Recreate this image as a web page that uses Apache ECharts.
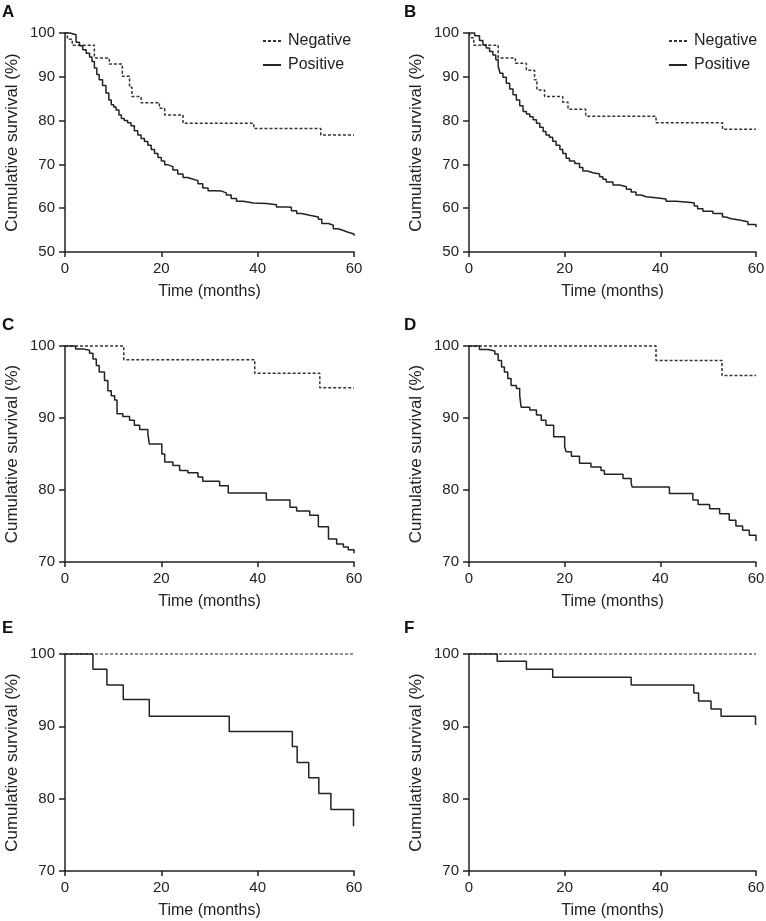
<!DOCTYPE html>
<html>
<head>
<meta charset="utf-8">
<title>Cumulative survival</title>
<script src="https://cdn.jsdelivr.net/npm/echarts@6/dist/echarts.min.js"></script>
<style>
html, body { margin: 0; padding: 0; background: #fff; }
#chart { width: 766px; height: 921px; }
</style>
</head>
<body>
<div id="chart"></div>
<script>
// A
var aNegT = [0, 0.5, 1.5, 6.1, 9.2, 11.9, 13.4, 13.9, 15.8, 19.6, 20.7, 24.5, 39.2, 53.1, 60];
var aNegS = [100, 98.6, 97.2, 94.3, 92.9, 90.1, 87.6, 85.5, 84.1, 82.8, 81.3, 79.4, 78.2, 76.7, 76.7];
var aPosT = [0, 1.0, 2.3, 3.0, 3.7, 4.4, 5.1, 5.6, 6.1, 6.6, 7.1, 7.8, 8.5, 9.1, 9.6, 10.1, 10.6, 11.2, 11.7, 12.3, 13.0, 13.7, 14.4, 15.1, 15.8, 16.5, 17.2, 17.9, 18.6, 19.3, 20.0, 20.7, 21.4, 22.4, 23.4, 24.5, 25.5, 26.6, 27.6, 28.6, 29.7, 31.1, 32.5, 33.5, 34.5, 35.6, 37.0, 39.1, 41.8, 43.9, 46.1, 47.0, 48.1, 49.1, 50.8, 52.6, 53.3, 54.7, 55.7, 56.7, 57.8, 58.8, 60];
var aPosS = [100, 99.6, 97.9, 97.1, 96.2, 95.4, 94.5, 93.5, 92.0, 90.5, 89.3, 88.0, 86.3, 84.7, 83.6, 83.1, 82.4, 81.3, 80.5, 80.0, 79.5, 78.8, 77.7, 76.7, 75.9, 75.2, 74.4, 73.4, 72.5, 71.6, 70.8, 69.9, 69.5, 68.7, 67.8, 67.0, 66.6, 66.3, 65.6, 64.6, 64.0, 63.9, 63.5, 63.0, 62.2, 61.6, 61.2, 61.1, 60.8, 60.3, 60.2, 59.4, 58.8, 58.4, 58.0, 57.5, 56.5, 56.1, 55.3, 54.9, 54.5, 54.1, 53.7];

// B
var bNegT = [0, 0.4, 1.0, 6.1, 9.7, 12.0, 13.7, 14.2, 15.8, 19.6, 20.7, 24.4, 39.1, 53.0, 60];
var bNegS = [100, 98.9, 97.2, 94.3, 93.1, 91.5, 89.3, 87.0, 85.5, 84.2, 82.6, 81.0, 79.5, 78.0, 78.0];
var bPosT = [0, 1.2, 2.2, 2.9, 3.6, 4.3, 5.0, 5.6, 6.1, 6.5, 7.1, 7.8, 8.5, 9.2, 9.9, 10.6, 11.3, 12.0, 12.7, 13.4, 14.1, 14.8, 15.5, 16.1, 16.8, 17.5, 18.2, 19.0, 19.6, 20.3, 21.0, 22.1, 23.1, 23.8, 24.8, 25.9, 27.3, 28.0, 28.7, 30.1, 31.5, 32.9, 33.9, 34.9, 36.0, 37.0, 39.1, 41.2, 43.3, 46.4, 47.1, 47.8, 48.9, 51.0, 53.0, 53.7, 54.8, 56.5, 58.3, 60];
var bPosS = [100, 99.4, 98.3, 97.3, 96.6, 95.8, 95.0, 93.9, 92.4, 90.8, 89.9, 88.5, 87.2, 85.9, 84.7, 83.4, 82.1, 81.5, 80.9, 80.2, 79.4, 78.5, 77.5, 76.7, 76.2, 75.3, 74.4, 73.4, 72.5, 71.4, 70.8, 70.2, 69.3, 68.5, 68.1, 67.8, 67.2, 66.6, 66.0, 65.3, 64.9, 64.3, 63.7, 63.0, 62.6, 62.4, 62.1, 61.6, 61.3, 61.2, 60.5, 59.9, 59.3, 58.8, 58.0, 57.6, 57.3, 56.9, 56.3, 55.7];

// C
var cNegT = [0, 12.2, 39.4, 52.9, 60];
var cNegS = [100, 98.1, 96.2, 94.2, 94.2];
var cPosT = [0, 2.2, 3.7, 5.1, 5.8, 6.5, 7.1, 8.2, 8.9, 9.6, 10.3, 10.8, 12.0, 13.4, 14.4, 15.5, 17.2, 17.5, 20.1, 20.7, 22.4, 23.8, 25.5, 27.6, 28.6, 32.1, 33.9, 41.8, 46.7, 48.1, 50.8, 52.6, 54.7, 56.4, 57.8, 58.8, 60];
var cPosS = [100, 99.6, 99.4, 99.0, 98.2, 97.3, 96.4, 95.2, 93.8, 93.1, 92.5, 90.6, 90.2, 89.7, 89.0, 88.4, 87.8, 86.4, 85.0, 83.9, 83.4, 82.7, 82.4, 81.8, 81.2, 80.6, 79.6, 78.6, 77.6, 77.1, 76.5, 74.9, 73.2, 72.5, 72.1, 71.7, 71.2];

// D
var dNegT = [0, 39.1, 52.9, 60];
var dNegS = [100, 98.0, 95.9, 95.9];
var dPosT = [0, 2.2, 4.0, 5.4, 6.1, 6.8, 7.4, 8.1, 8.8, 9.9, 10.6, 10.9, 12.7, 14.1, 15.1, 16.1, 17.7, 20.0, 20.3, 21.4, 23.1, 25.5, 27.6, 28.3, 32.2, 33.9, 34.1, 41.9, 46.8, 47.9, 50.3, 52.4, 54.4, 55.8, 57.2, 58.6, 60];
var dPosS = [100, 99.5, 99.3, 98.9, 98.0, 97.1, 96.4, 95.5, 94.5, 94.1, 93.1, 91.5, 91.1, 90.4, 89.7, 89.0, 87.4, 86.0, 85.3, 84.7, 83.7, 83.2, 82.7, 82.2, 81.6, 81.0, 80.4, 79.5, 78.6, 78.0, 77.4, 76.7, 75.8, 75.0, 74.4, 73.7, 72.9];

// E
var eNegT = [0, 60];
var eNegS = [100, 100];
var ePosT = [0, 5.8, 8.7, 12.1, 17.5, 34.1, 47.2, 48.2, 50.6, 52.7, 55.2, 59.9];
var ePosS = [100, 97.9, 95.7, 93.7, 91.4, 89.3, 87.2, 85.0, 82.9, 80.7, 78.5, 76.2];

// F
var fNegT = [0, 60];
var fNegS = [100, 100];
var fPosT = [0, 5.9, 12.0, 17.5, 33.9, 47.0, 48.0, 50.6, 52.7, 59.9];
var fPosS = [100, 99.0, 97.9, 96.8, 95.7, 94.6, 93.5, 92.4, 91.4, 90.2];

var panelNames = ['A', 'B', 'C', 'D', 'E', 'F'];
var yMins = [50, 50, 70, 70, 70, 70];

function pts(t, s) {
  return t.map(function (x, i) { return [x, s[i]]; });
}

var negData = [pts(aNegT, aNegS), pts(bNegT, bNegS), pts(cNegT, cNegS), pts(dNegT, dNegS), pts(eNegT, eNegS), pts(fNegT, fNegS)];
var posData = [pts(aPosT, aPosS), pts(bPosT, bPosS), pts(cPosT, cPosS), pts(dPosT, dPosS), pts(ePosT, ePosS), pts(fPosT, fPosS)];

var font = 'Liberation Sans, Arial, sans-serif';
var ink = '#222';
var dashInk = '#333';

var grids = [
  {left: 65, top: 33, width: 289, height: 219},
  {left: 469, top: 33, width: 287, height: 219},
  {left: 65, top: 346, width: 289, height: 216},
  {left: 469, top: 346, width: 287, height: 216},
  {left: 65, top: 654, width: 289, height: 217},
  {left: 469, top: 654, width: 287, height: 217}
];
var titleTops = [4, 317, 620];

var option = {
  animation: false,
  backgroundColor: '#fff',
  title: [],
  legend: [],
  grid: [],
  xAxis: [],
  yAxis: [],
  series: []
};

for (var i = 0; i < 6; i++) {
  var g = grids[i];
  option.grid.push({left: g.left, top: g.top, width: g.width, height: g.height, containLabel: false, outerBoundsMode: 'none'});
  option.title.push({
    text: panelNames[i],
    left: i % 2 === 0 ? 2 : 404,
    top: titleTops[Math.floor(i / 2)],
    padding: 0,
    textStyle: {fontSize: 17, fontWeight: 'bold', fontFamily: font, color: '#111'}
  });
  option.xAxis.push({
    type: 'value', gridIndex: i, min: 0, max: 60, interval: 20,
    name: 'Time (months)', nameLocation: 'middle', nameGap: 32,
    nameTextStyle: {fontSize: 16, fontFamily: font, color: ink},
    axisLine: {show: true, lineStyle: {color: ink, width: 1.5}},
    axisTick: {show: true, length: 5, lineStyle: {color: ink, width: 1.5}},
    axisLabel: {fontSize: 15, fontFamily: font, color: ink, margin: 9},
    splitLine: {show: false}
  });
  option.yAxis.push({
    type: 'value', gridIndex: i, min: yMins[i], max: 100, interval: 10,
    name: 'Cumulative survival (%)', nameLocation: 'middle', nameGap: 44,
    nameTextStyle: {fontSize: 17, fontFamily: font, color: ink},
    axisLine: {show: true, lineStyle: {color: ink, width: 1.5}},
    axisTick: {show: true, length: 6, lineStyle: {color: ink, width: 1.5}},
    axisLabel: {fontSize: 15, fontFamily: font, color: ink, margin: 10},
    splitLine: {show: false}
  });
  option.series.push({
    name: 'Negative', type: 'line', xAxisIndex: i, yAxisIndex: i,
    data: negData[i], step: 'end', symbol: 'none', clip: false,
    itemStyle: {color: dashInk},
    lineStyle: {color: i >= 4 ? '#666' : dashInk, width: 1.5, type: [3, 2]}
  });
  option.series.push({
    name: 'Positive', type: 'line', xAxisIndex: i, yAxisIndex: i,
    data: posData[i], step: 'end', symbol: 'none', clip: false,
    itemStyle: {color: ink},
    lineStyle: {color: ink, width: 1.5, type: 'solid'}
  });
}

// legend only in panels A and B
[262, 668].forEach(function (lx) {
  option.legend.push({
    left: lx, top: 33, orient: 'vertical', padding: 0,
    data: ['Negative', 'Positive'],
    itemWidth: 18, itemHeight: 14, itemGap: 8,
    selectedMode: false,
    itemStyle: {opacity: 0},
    textStyle: {fontSize: 16, fontFamily: font, color: ink, padding: [0, 0, 0, 2]}
  });
});

var myChart = echarts.init(document.getElementById('chart'), null, {renderer: 'canvas'});
myChart.setOption(option);
</script>
</body>
</html>
